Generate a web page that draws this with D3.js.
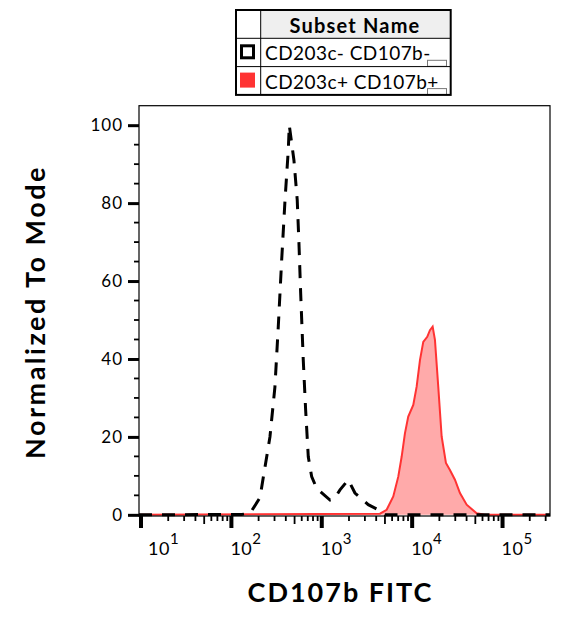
<!DOCTYPE html>
<html>
<head>
<meta charset="utf-8">
<script src="https://cdn.jsdelivr.net/npm/d3@7"></script>
<style>
  body { margin: 0; background: #fff; }
  text { font-family: Lato, sans-serif; }
</style>
</head>
<body>
<div id="chart"></div>
<script>
// subset names + colours for the legend
const subsets = ['CD203c- CD107b-', 'CD203c+ CD107b+']

// CD203c- CD107b- histogram (dashed black)
const negX = [9.5, 130, 161, 207, 267, 303, 330, 360, 392, 426, 437, 492, 535, 559, 584, 624, 663, 709, 773, 879, 1233, 1400, 1590, 1963, 2329, 3268, 4215, 5000, 335000]
const negY = [0, 0.1, 0.4, 4.4, 20, 32.8, 48.2, 65.4, 80.8, 93.6, 100, 91, 80.8, 69.7, 56.9, 39.7, 26.9, 14.9, 9.8, 6.8, 3.8, 4.4, 6.4, 9, 5.6, 2.6, 1.3, 0, 0]

// CD203c+ CD107b+ histogram (red filled)
const posX = [9.5, 4406, 5224, 6180, 7020, 7650, 8318, 9052, 10290, 11210, 12200, 13270, 14690, 15730, 16850, 17870, 19440, 21200, 23640, 26170, 29740, 33790, 40090, 51680, 63830, 335000]
const posY = [0, 0.3, 1.3, 4.7, 9.8, 14.9, 20.9, 25.2, 28.2, 32.9, 39.7, 44.4, 45.7, 47.4, 48.3, 44.9, 32.9, 20.1, 13.3, 11.5, 9, 5.6, 2.6, 0.4, 0, 0]

const yMajor = [0, 20, 40, 60, 80, 100]
const xDecades = [1, 2, 3, 4, 5]

let margin = { top: 105.7, left: 139, right: 20, bottom: 104 }
let width = 570 - margin.left - margin.right
let height = 620 - margin.top - margin.bottom

let root = d3
  .select('#chart')
  .append('svg')
  .attr('width', 570)
  .attr('height', 620)

let svg = root
  .append('g')
  .attr('transform', 'translate(' + margin.left + ',' + margin.top + ')')

let x = d3.scaleLog().domain([9.5, 335000]).range([0, width])
let y = d3.scaleLinear().domain([-0.3, 105]).range([height, 0])

let posData = posX.map((v, i) => [v, posY[i]])
let negData = negX.map((v, i) => [v, negY[i]])

let area = d3.area()
  .x(d => x(d[0]))
  .y0(y(0))
  .y1(d => y(d[1]))

let line = d3.line()
  .x(d => x(d[0]))
  .y(d => y(d[1]))

svg.append('path')
  .datum(posData)
  .attr('d', area)
  .attr('fill', '#ffaaaa')

svg.append('path')
  .datum(posData)
  .attr('d', line)
  .attr('fill', 'none')
  .attr('stroke', '#ff3333')
  .attr('stroke-width', 2)

svg.append('path')
  .datum(negData)
  .attr('d', line)
  .attr('fill', 'none')
  .attr('stroke', '#000')
  .attr('stroke-width', 3)
  .attr('stroke-dasharray', '13,10')

// frame
svg.append('rect')
  .attr('width', width)
  .attr('height', height)
  .attr('fill', 'none')
  .attr('stroke', '#000')
  .attr('stroke-width', 1.2)

// y axis
let yMinor = d3.range(0, 105, 5).filter(v => yMajor.indexOf(v) < 0)
svg.selectAll('.yminor')
  .data(yMinor)
  .enter()
  .append('line')
  .attr('x1', -5).attr('x2', 0)
  .attr('y1', d => y(d)).attr('y2', d => y(d))
  .attr('stroke', '#000')
  .attr('stroke-width', 1.8)

let yAxis = svg.append('g')
  .call(d3.axisLeft(y).tickValues(yMajor).tickSize(11).tickPadding(5))
yAxis.select('.domain').remove()
yAxis.selectAll('line').attr('stroke-width', 3)
yAxis.selectAll('text')
  .attr('font-family', 'Lato, sans-serif')
  .attr('font-size', 17)
  .attr('letter-spacing', 1)
  .attr('fill', '#000')

// x axis ticks
let xMinor = []
xDecades.concat([0]).forEach(k => {
  for (let m = 2; m <= 9; m++) {
    let v = m * Math.pow(10, k)
    if (v >= x.domain()[0] && v <= x.domain()[1]) xMinor.push({ v: v, m: m })
  }
})
svg.selectAll('.xminor')
  .data(xMinor)
  .enter()
  .append('line')
  .attr('x1', d => x(d.v)).attr('x2', d => x(d.v))
  .attr('y1', height).attr('y2', d => height + (d.m == 5 ? 8 : 5))
  .attr('stroke', '#000')
  .attr('stroke-width', 1.8)

svg.selectAll('.xmajor')
  .data(xDecades)
  .enter()
  .append('line')
  .attr('x1', d => x(Math.pow(10, d))).attr('x2', d => x(Math.pow(10, d)))
  .attr('y1', height).attr('y2', height + 12)
  .attr('stroke', '#000')
  .attr('stroke-width', 4)

let xLab = svg.selectAll('.xlab')
  .data(xDecades)
  .enter()
  .append('text')
  .attr('x', d => Math.max(x(Math.pow(10, d)) - 1, 9))
  .attr('y', height + 39)
  .attr('font-size', 18)
  .attr('letter-spacing', 0.5)
  .attr('fill', '#000')
xLab.append('tspan').text('10')
xLab.append('tspan')
  .attr('dy', -11)
  .attr('font-size', 15)
  .text(d => d)

// titles
root.append('text')
  .attr('x', margin.left + width / 2 - 4)
  .attr('y', 602)
  .attr('text-anchor', 'middle')
  .attr('font-size', 27)
  .attr('font-weight', 'bold')
  .attr('letter-spacing', 2)
  .text('CD107b FITC')

root.append('text')
  .attr('transform', 'translate(45,312) rotate(-90)')
  .attr('text-anchor', 'middle')
  .attr('font-size', 27)
  .attr('font-weight', 'bold')
  .attr('letter-spacing', 2.5)
  .text('Normalized To Mode')

// legend
let leg = root.append('g').attr('transform', 'translate(236,10)')
let legW = 214.7, rowH = 28.3

leg.append('rect')
  .attr('x', 24.7).attr('y', 0)
  .attr('width', legW - 24.7).attr('height', rowH)
  .attr('fill', '#efefef')

leg.append('text')
  .attr('x', 119).attr('y', 23)
  .attr('text-anchor', 'middle')
  .attr('font-size', 20)
  .attr('font-weight', 'bold')
  .attr('letter-spacing', 1.2)
  .text('Subset Name')

let rows = leg.selectAll('.row')
  .data(subsets)
  .enter()
  .append('g')
  .attr('transform', (d, i) => 'translate(0,' + (rowH * (i + 1)) + ')')

rows.append('line')
  .attr('x1', 0).attr('x2', legW)
  .attr('y1', 0).attr('y2', 0)
  .attr('stroke', '#000')
  .attr('stroke-width', 1)

rows.append('rect')
  .attr('x', (d, i) => i == 0 ? 5.5 : 4)
  .attr('y', (d, i) => i == 0 ? 7.5 : 6)
  .attr('width', (d, i) => i == 0 ? 12 : 15)
  .attr('height', (d, i) => i == 0 ? 12 : 15)
  .attr('fill', (d, i) => i == 0 ? 'none' : '#ff3333')
  .attr('stroke', (d, i) => i == 0 ? '#000' : 'none')
  .attr('stroke-width', 3)

rows.append('text')
  .attr('x', 29).attr('y', 22)
  .attr('font-size', 19)
  .attr('letter-spacing', 0.45)
  .text(d => d)

rows.append('rect')
  .attr('x', 191.5).attr('y', 22)
  .attr('width', 19).attr('height', 6)
  .attr('fill', '#fff')
  .attr('stroke', '#777')
  .attr('stroke-width', 1)

leg.append('line')
  .attr('x1', 24.7).attr('x2', 24.7)
  .attr('y1', 0).attr('y2', rowH * 3)
  .attr('stroke', '#000')
  .attr('stroke-width', 1)

leg.append('rect')
  .attr('width', legW).attr('height', rowH * 3)
  .attr('fill', 'none')
  .attr('stroke', '#000')
  .attr('stroke-width', 2)
</script>
</body>
</html>
